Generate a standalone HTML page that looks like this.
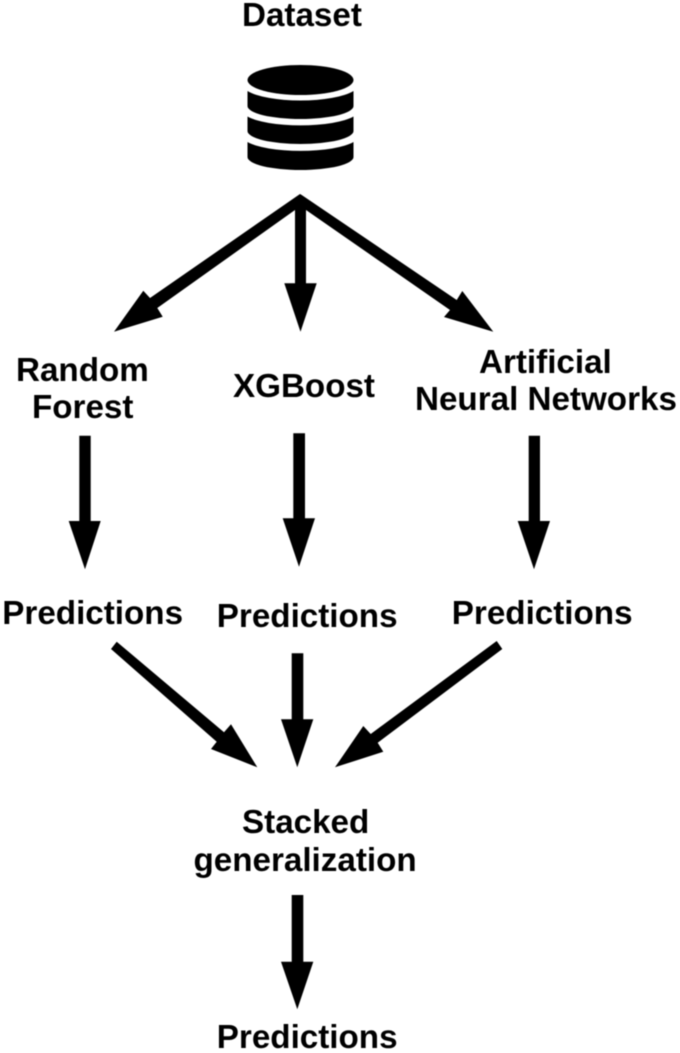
<!DOCTYPE html>
<html>
<head>
<meta charset="utf-8">
<style>
html,body{margin:0;padding:0;background:#fff;width:680px;height:1053px;overflow:hidden}
svg{display:block;filter:blur(0.4px)}
text{font-family:"Liberation Sans",sans-serif;font-weight:700;font-size:33.2px;fill:#000}
</style>
</head>
<body>
<svg width="680" height="1053" viewBox="0 0 680 1053" xmlns="http://www.w3.org/2000/svg">
<rect width="680" height="1053" fill="#fff"/>
<text x="242" y="26">Dataset</text>
<text x="16" y="381">Random</text>
<text x="32" y="418">Forest</text>
<text x="233" y="397">XGBoost</text>
<text x="479" y="373">Artificial</text>
<text x="415" y="410">Neural Networks</text>
<text x="2.3" y="624">Predictions</text>
<text x="216.8" y="627">Predictions</text>
<text x="451.8" y="624">Predictions</text>
<text x="242" y="833">Stacked</text>
<text x="193.5" y="871">generalization</text>
<text x="216.8" y="1048">Predictions</text>

<!-- database -->
<ellipse cx="300.5" cy="80" rx="53" ry="15" fill="#000"/>
<path d="M247.5 91 A58 16 0 0 0 353.5 91 V106 A53 13 0 0 1 247.5 106 Z" fill="#000"/>
<path d="M247.5 116.5 A58 15 0 0 0 353.5 116.5 V131 A53 13 0 0 1 247.5 131 Z" fill="#000"/>
<path d="M247.5 142 A58 15 0 0 0 353.5 142 V157 A53 13 0 0 1 247.5 157 Z" fill="#000"/>

<!-- fan-out arrows -->
<polygon points="300,194 150,298 143.3,290.7 114,331.7 162.7,316.7 157.3,308 295,210 295,283.3 284.3,283.3 300.5,331.7 316.7,283.3 306,283.3 306,210 450,310 444,317 493.3,331.7 462.3,291 456.7,300 301.7,195" fill="#000"/>

<!-- vertical arrows to predictions -->
<polygon points="79.3,435.7 90.7,435.7 90.7,521 100.7,521 85,569.3 68.7,521 79.3,521" fill="#000"/>
<polygon points="293.3,433.3 305,433.3 305,518.3 315,518.3 299,566.7 282.7,518.3 293.3,518.3" fill="#000"/>
<polygon points="528.7,435.7 540,435.7 540,521 550,521 534,569.3 517.7,521 528.7,521" fill="#000"/>

<!-- converging arrows -->
<polygon points="116.7,641.7 111,649 216.7,741.7 211,749 257.3,767.3 231,724.3 224,732.3" fill="#000"/>
<polygon points="291.7,653.3 303.3,653.3 303.3,719.3 313.3,719.3 297.3,767.3 281,719.3 291.7,719.3" fill="#000"/>
<polygon points="496.7,641 502.3,649 377.7,742.7 383.3,751.7 335,767.3 363.3,726 370.7,734" fill="#000"/>

<!-- final arrow -->
<polygon points="291.7,895 303.3,895 303.3,961.7 313.3,961.7 297.3,1009.3 281,961.7 291.7,961.7" fill="#000"/>
</svg>
</body>
</html>
